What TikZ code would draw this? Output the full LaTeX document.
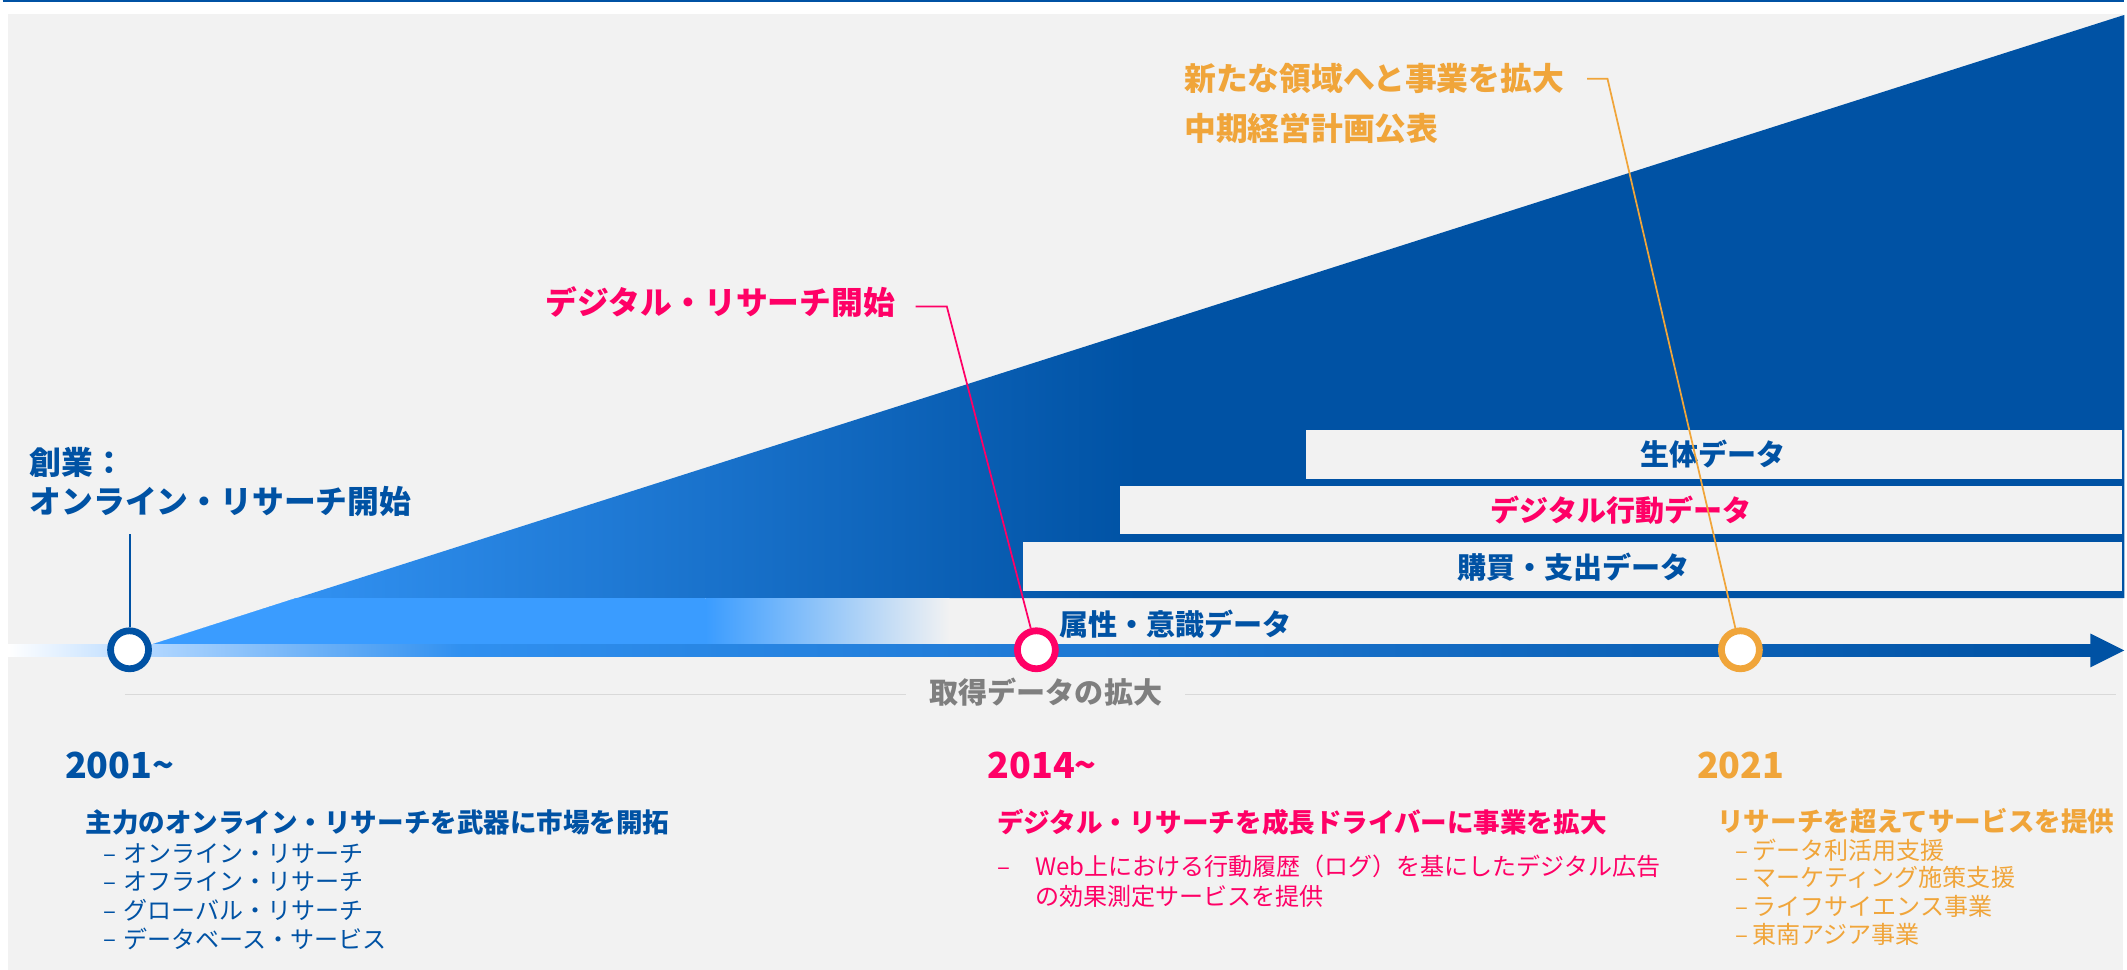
\documentclass[tikz,border=0pt]{standalone}
\usepackage{fontspec}
\setmainfont{Noto Sans CJK JP}
\definecolor{dblue}{HTML}{0052A4}
\definecolor{lblue}{HTML}{3A9CFF}
\definecolor{mblue}{HTML}{3090F0}
\definecolor{pblue}{HTML}{B0D6FF}
\definecolor{pinkc}{HTML}{FF0066}
\definecolor{orangec}{HTML}{F0A53A}
\definecolor{bgc}{HTML}{F2F2F2}
\definecolor{gtext}{HTML}{7F7F7F}
\definecolor{gline}{HTML}{D9D9D9}
\tikzset{
  txt/.style={inner sep=0pt, outer sep=0pt, anchor=west},
  big/.style={font=\fontsize{16.4pt}{19pt}\selectfont\bfseries},
  barlbl/.style={font=\fontsize{15pt}{17pt}\selectfont\bfseries},
  head/.style={font=\fontsize{13.7pt}{16pt}\selectfont\bfseries},
  item/.style={font=\fontsize{12.4pt}{15pt}\selectfont},
  year/.style={font=\fontsize{18.5pt}{21pt}\selectfont\bfseries},
  ring/.style={circle, draw=#1, fill=white, line width=3.5pt, minimum size=19.6pt, inner sep=0pt},
  leader/.style={draw=#1, line width=0.9pt}
}
\begin{document}
\begin{tikzpicture}[x=0.7pt,y=-0.7pt]
\useasboundingbox (0,0) rectangle (1568,715);
\fill[white] (0,0) rectangle (1568,715);
\fill[bgc] (6,10) rectangle (1565,715);
\draw[dblue, line width=1pt] (2,1) -- (1566,1);

% big triangle
\shade[left color=lblue, right color=dblue, middle color=dblue]
  (112,475) -- (1566,11) -- (1566,441) -- (218,441) -- cycle;
% light band
\fill[lblue] (112,475) -- (218,441) -- (520,441) -- (520,475) -- cycle;
\shade[left color=lblue, right color=bgc] (520,441) rectangle (700,475);

% data bars
\fill[bgc] (963,317) rectangle (1564,353);
\fill[bgc] (826,358) rectangle (1564,394);
\fill[bgc] (754,399.5) rectangle (1564,436);
\node[barlbl, text=dblue, inner sep=0pt] (bio) at (1263,335) {生体データ};
\node[barlbl, text=pinkc, inner sep=0pt] (dig) at (1195,376) {デジタル行動データ};
\node[barlbl, text=dblue, inner sep=0pt] (buy) at (1160,418) {購買・支出データ};
\node[barlbl, text=dblue, txt] (attr) at (781,460) {属性・意識データ};

% timeline arrow
\shade[left color=white, right color=pblue] (6,475) rectangle (112,484);
\shade[left color=pblue, right color=mblue] (112,475) rectangle (340,484);
\shade[left color=mblue, right color=dblue] (340,475) rectangle (1542,484);
\fill[dblue] (1541,467) -- (1566,479.5) -- (1541,492) -- cycle;

% acquisition line
\coordinate (gl0) at (92,512);
\coordinate (gl1) at (1560,512);
\draw[gline, line width=0.8pt] (gl0) -- (gl1);
\node[fill=bgc, inner xsep=12pt, inner ysep=2pt, text=gtext, barlbl] (acq) at (771,510) {取得データの拡大};

% milestones
\node[ring=dblue] (c1) at (95.5,479) {};
\node[ring=pinkc] (c2) at (764,479) {};
\node[ring=orangec] (c3) at (1283,479) {};

% leaders
\coordinate (b0) at (95.5,394);
\draw[leader=dblue, line width=1pt] (b0) -- (c1);
\coordinate (p0) at (675,226);
\coordinate (p1) at (698,226);
\draw[leader=pinkc] (p0) -- (p1) -- (c2);
\coordinate (o0) at (1170,58);
\coordinate (o1) at (1185,58);
\draw[leader=orangec] (o0) -- (o1) -- (c3);

% callouts
\node[big, text=dblue, txt] (found1) at (22,341) {創業：};
\node[big, text=dblue, txt] (found2) at (22,370) {オンライン・リサーチ開始};
\node[big, text=pinkc, inner sep=0pt, anchor=east] (digstart) at (660,223) {デジタル・リサーチ開始};
\node[big, text=orangec, txt] (new1) at (873,58) {新たな領域へと事業を拡大};
\node[big, text=orangec, txt] (new2) at (873,95) {中期経営計画公表};

% 2001 column
\node[year, text=dblue, txt] (y1) at (48,564) {2001\textasciitilde};
\node[head, text=dblue, txt] (h1) at (63,606) {主力のオンライン・リサーチを武器に市場を開拓};
\foreach \yy/\tt [count=\i] in {629/オンライン・リサーチ, 650/オフライン・リサーチ, 671/グローバル・リサーチ, 692/データベース・サービス}{
  \node[item, text=dblue, txt] (d1\i) at (76,\yy) {\vphantom{あ}–};
  \node[item, text=dblue, txt] (a1\i) at (91,\yy) {\tt};
}

% 2014 column
\node[year, text=pinkc, txt] (y2) at (728,564) {2014\textasciitilde};
\node[head, text=pinkc, txt] (h2) at (735,606) {デジタル・リサーチを成長ドライバーに事業を拡大};
\node[item, text=pinkc, txt] (d21) at (735,639) {\vphantom{あ}–};
\node[item, text=pinkc, txt] (a21) at (763,639) {Web上における行動履歴（ログ）を基にしたデジタル広告};
\node[item, text=pinkc, txt] (a22) at (763,661) {の効果測定サービスを提供};

% 2021 column
\node[year, text=orangec, txt] (y3) at (1251,564) {2021};
\node[head, text=orangec, txt] (h3) at (1266,605) {リサーチを超えてサービスを提供};
\foreach \yy/\tt [count=\i] in {627/データ利活用支援, 647/マーケティング施策支援, 668/ライフサイエンス事業, 689/東南アジア事業}{
  \node[item, text=orangec, txt] (d3\i) at (1279,\yy) {\vphantom{あ}–};
  \node[item, text=orangec, txt] (a3\i) at (1292,\yy) {\tt};
}
\end{tikzpicture}
\end{document}
